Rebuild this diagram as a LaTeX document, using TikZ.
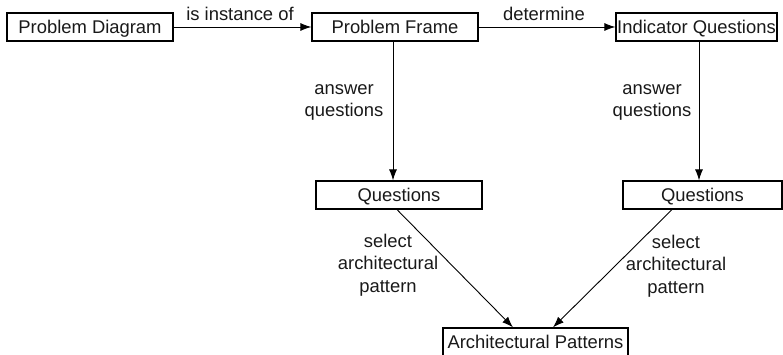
\documentclass[tikz,border=0pt]{standalone}
\usepackage{fontspec}
\setmainfont{Liberation Sans}
\usetikzlibrary{arrows.meta}
\begin{document}
\begin{tikzpicture}[x=1pt,y=-1pt,
  every node/.style={font=\fontsize{18.4}{22.5}\selectfont, text=black!90},
  box/.style={draw, line width=1.2pt, rectangle, inner sep=0pt, minimum height=28pt, text height=13.2pt, text depth=0pt},
  lbl/.style={inner sep=0pt, align=center, anchor=base},
  arr/.style={line width=0.9pt, -{Latex[length=11pt,width=8pt]}}]
\useasboundingbox (0,0) rectangle (783,355);
\node[box, minimum width=166pt] (PD) at (90,27) {Problem Diagram};
\node[box, minimum width=166pt] (PF) at (395,27) {Problem Frame};
\node[box, minimum width=161pt] (IQ) at (696.5,27) {Indicator Questions};
\node[box, minimum width=166pt] (Q1) at (399,195) {Questions};
\node[box, minimum width=159pt] (Q2) at (702.5,195) {Questions};
\node[box, minimum width=185pt] (AP) at (535.5,342) {Architectural Patterns};
\draw[arr] (PD.east) -- (PF.west);
\draw[arr] (PF.east) -- (IQ.west);
\draw[arr] ([xshift=-2pt]PF.south) -- ([xshift=-6pt]Q1.north);
\draw[arr] ([xshift=2.5pt]IQ.south) -- ([xshift=-3.5pt]Q2.north);
\draw[arr] ([xshift=-2pt]Q1.south) -- ([xshift=-22.5pt]AP.north);
\draw[arr] ([xshift=-30.5pt]Q2.south) -- ([xshift=17.5pt]AP.north);
\node[lbl] (l1) at (240,21) {is instance of};
\node[lbl] (l2) at (544,21) {determine};
\node[lbl] (l3) at (344,117) {answer\\questions};
\node[lbl] (l4) at (652,117) {answer\\questions};
\node[lbl] (l5) at (388,292) {select\\architectural\\pattern};
\node[lbl] (l6) at (676,293) {select\\architectural\\pattern};
\end{tikzpicture}
\end{document}
